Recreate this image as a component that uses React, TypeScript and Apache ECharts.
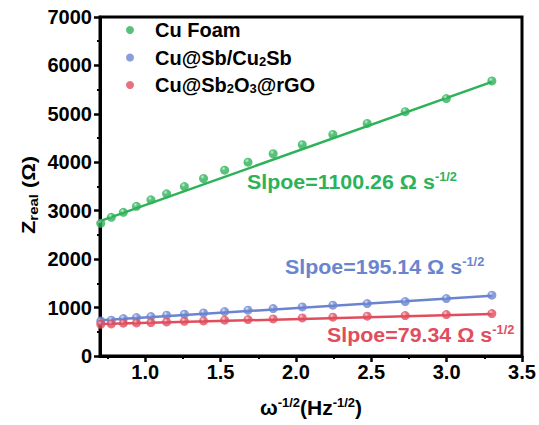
import React, { useEffect, useRef } from "react";
import * as echarts from "echarts";

const xValues = [0.705, 0.775, 0.855, 0.942, 1.038, 1.142, 1.26, 1.387, 1.527, 1.682, 1.849, 2.042, 2.245, 2.473, 2.725, 2.998, 3.3];
const cuFoam = [2739, 2863, 2967, 3091, 3224, 3348, 3499, 3665, 3836, 4002, 4176, 4362, 4576, 4803, 5046, 5315, 5679];
const cuSb = [725, 739, 772, 793, 814, 843, 863, 890, 917, 946, 979, 1014, 1050, 1083, 1124, 1186, 1257];
const cuSbO = [656, 662, 677, 683, 690, 704, 718, 725, 739, 752, 766, 787, 801, 822, 834, 855, 876];
const fitX = [0.705, 3.3];
const fitCuFoam = [2790, 5660];
const fitCuSb = [738, 1245];
const fitCuSbO = [660, 866];
const xMajorTicks = [1.0, 1.5, 2.0, 2.5, 3.0, 3.5];
const xMinorTicks = [0.75, 1.25, 1.75, 2.25, 2.75, 3.25];
const seriesNames = ["Cu Foam", "Cu@Sb/Cu{sub|2}Sb", "Cu@Sb{sub|2}O{sub|3}@rGO"];
const slopeTexts = ["1100.26", "195.14", "79.34"];

const GREEN = "#2db259";
const BLUE = "#6a84cf";
const RED = "#e14d5c";

const ball = (c: string, light: string) =>
  new echarts.graphic.RadialGradient(0.38, 0.32, 0.55, [
    { offset: 0, color: light },
    { offset: 0.45, color: c },
    { offset: 1, color: c },
  ]);

const pairs = (xs: number[], ys: number[]) => xs.map((x, i) => [x, ys[i]]);

export default function App() {
  const ref = useRef<HTMLDivElement>(null);
  useEffect(() => {
    if (!ref.current) return;
    document.body.style.margin = "0";
    document.documentElement.style.overflow = "hidden";
    const chart = echarts.init(ref.current, null, { renderer: "svg" });
    const font = "Liberation Sans, Arial, sans-serif";
    const FS = 20;
    const rich = {
      sup: { fontSize: 13, fontWeight: "bold", color: "#000", verticalAlign: "top", padding: [0, 0, 10, 0], fontFamily: font },
    } as any;
    const slopeText = (x: number, y: number, v: string, color: string) => ({
      type: "text",
      x,
      y,
      scaleX: 1.07,
      style: {
        text: `Slpoe=${v} Ω s{sup|-1/2}`,
        fill: color,
        font: `bold 20px ${font}`,
        verticalAlign: "top",
        rich: {
          sup: { fontSize: 12, fontWeight: "bold", fill: color, padding: [0, 0, 10, 0], verticalAlign: "top", fontFamily: font },
        },
      },
    });
    const colors = [GREEN, BLUE, RED];
    const lights = ["#b9efc8", "#d3dcf7", "#f8c4c9"];
    const scatterData = [cuFoam, cuSb, cuSbO];
    const fitData = [fitCuFoam, fitCuSb, fitCuSbO];
    const option: any = {
      animation: false,
      grid: {
        left: 100, top: 17, right: 17, bottom: 69, show: true, borderColor: "#000", borderWidth: 3,
        backgroundColor: "transparent", outerBoundsMode: "none",
      },
      legend: {
        data: seriesNames.map((n, i) => ({ name: n, itemStyle: { color: colors[i] } })),
        orient: "vertical",
        left: 121,
        top: 15,
        icon: "circle",
        itemWidth: 8,
        itemHeight: 8,
        itemGap: 7.5,
        textStyle: {
          fontSize: FS,
          lineHeight: 20,
          fontWeight: "bold",
          color: "#000",
          fontFamily: font,
          padding: [0, 0, 0, 16],
          rich: { sub: { fontSize: 13, fontWeight: "bold", color: "#000", verticalAlign: "bottom", padding: [10, 0, 0, 0], fontFamily: font } },
        },
      },
      xAxis: [
        {
          type: "value",
          min: 0.7,
          max: 3.5,
          axisLine: { show: true, lineStyle: { color: "#000", width: 3 } },
          splitLine: { show: false },
          axisTick: { show: true, inside: false, length: 6, lineStyle: { width: 2.5 }, customValues: xMajorTicks },
          axisLabel: {
            customValues: xMajorTicks, formatter: (v: number) => v.toFixed(1), color: "#000", fontSize: FS,
            fontWeight: "bold", fontFamily: font, margin: 6, overflow: "none", hideOverlap: false,
          },
          name: "ω{sup|-1/2}(Hz{sup|-1/2})",
          nameLocation: "middle",
          nameGap: 40,
          nameTextStyle: { fontSize: 21, fontWeight: "bold", color: "#000", fontFamily: font, rich },
        },
        {
          type: "value",
          min: 0.7,
          max: 3.5,
          position: "bottom",
          axisLine: { show: false },
          splitLine: { show: false },
          axisTick: { show: true, length: 3, lineStyle: { width: 2, color: "#000" }, customValues: xMinorTicks },
          axisLabel: { show: false },
        },
      ],
      yAxis: {
        type: "value",
        min: 0,
        max: 7000,
        interval: 1000,
        axisLine: { show: true, lineStyle: { color: "#000", width: 3 } },
        splitLine: { show: false },
        axisTick: { show: true, length: 6, lineStyle: { width: 2.5 } },
        minorTick: { show: true, splitNumber: 2, length: 3, lineStyle: { color: "#000", width: 2 } },
        axisLabel: { formatter: (v: number) => String(v), color: "#000", fontSize: FS, fontWeight: "bold", fontFamily: font, margin: 8 },
      },
      graphic: [
        {
          type: "text",
          x: 17,
          y: 234,
          rotation: Math.PI / 2,
          scaleX: 1.15,
          style: {
            text: "Z{sub|real} (Ω)",
            fill: "#000",
            font: `bold 19px ${font}`,
            rich: { sub: { fontSize: 13, fontWeight: "bold", fill: "#000", verticalAlign: "bottom", padding: [10, 0, 0, 0], fontFamily: font } },
          },
        },
        slopeText(247, 171, slopeTexts[0], GREEN),
        slopeText(285, 256, slopeTexts[1], BLUE),
        slopeText(327, 324, slopeTexts[2], RED),
      ],
      series: [
        ...fitData.map((d, i) => ({
          type: "line",
          name: "fit" + i,
          data: pairs(fitX, d),
          showSymbol: false,
          symbol: "none",
          lineStyle: { color: colors[i], width: 2.5 },
          z: 2,
          silent: true,
        })),
        ...scatterData.map((d, i) => ({
          type: "scatter",
          name: seriesNames[i],
          data: pairs(xValues, d),
          symbol: "circle",
          symbolSize: 9,
          itemStyle: { color: ball(colors[i], lights[i]) },
          z: 3,
        })),
      ],
    };
    chart.setOption(option);
    return () => chart.dispose();
  }, []);
  return <div ref={ref} style={{ width: 539, height: 425 }} />;
}
